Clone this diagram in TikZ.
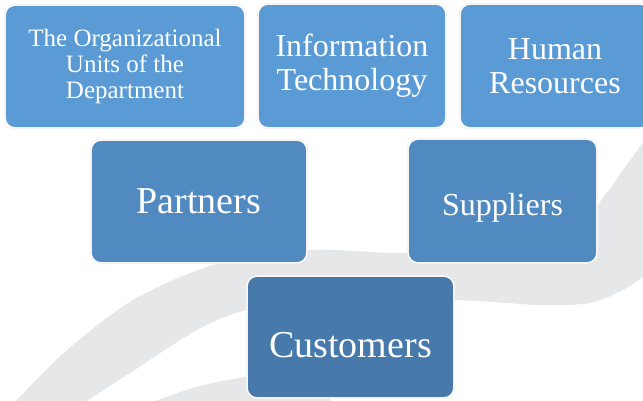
\documentclass[tikz,border=0pt]{standalone}
\usepackage{fontspec}
\setmainfont{Liberation Serif}
\usepackage{tikz}
\definecolor{toprow}{RGB}{91,155,213}
\definecolor{midrow}{RGB}{80,138,192}
\definecolor{lowrow}{RGB}{71,122,170}
\definecolor{swoosh}{RGB}{230,231,232}
\tikzset{
	unitbox/.style={rectangle, rounded corners=10pt, draw=black!12, double=white,
	double distance=1.2pt, line width=0.3pt, text=white, align=center, inner sep=0pt}
}

\begin{document}
\begin{tikzpicture}[x=1pt, y=-1pt]
			\useasboundingbox (0, 0) rectangle (643, 400);

			\fill [swoosh] plot [smooth] coordinates {(15, 402) (67, 350) (133, 300)
			(213, 265) (305, 250) (405, 253) (495, 246) (575, 228) (605, 195) (623, 170)
			(652, 130)} -- (660, 274) -- plot [smooth] coordinates {(643, 277) (623, 290)
			(590, 303) (540, 305) (454, 300) (330, 300) (247, 310) (197, 330) (130, 373)
			(85, 402)} -- cycle;
			\fill [swoosh] plot [smooth] coordinates {(150, 403) (200, 386) (260, 375)
			(330, 372)} -- (330, 403) -- cycle;

			\node [unitbox, fill=toprow, minimum width=240pt, minimum height=123pt,
			font=\fontsize{25}{26}\selectfont] (orgunits) at (125, 66.5)
			{The Organizational\\Units of the\\Department};

			\node [unitbox, fill=toprow, minimum width=188pt, minimum height=124pt,
			font=\fontsize{32}{34}\selectfont] (infotech) at (352, 66)
			{Information\\Technology};

			\node [unitbox, fill=toprow, minimum width=190pt, minimum height=124pt,
			font=\fontsize{32}{34}\selectfont] (humres) at (555, 66)
			{Human\\Resources};

			\node [unitbox, fill=midrow, minimum width=216pt, minimum height=123pt,
			font=\fontsize{38}{40}\selectfont] (partners) at (199, 201.5) {Partners};

			\node [unitbox, fill=midrow, minimum width=189pt, minimum height=124pt,
			text height=35pt, text depth=7pt, font=\fontsize{32}{34}\selectfont]
			(suppliers) at (502.5, 201) {Suppliers};

			\node [unitbox, fill=lowrow, minimum width=207pt, minimum height=122pt,
			text height=40pt, text depth=0pt, font=\fontsize{38}{40}\selectfont]
			(customers) at (350.5, 337) {Customers};
		\end{tikzpicture}
\end{document}
